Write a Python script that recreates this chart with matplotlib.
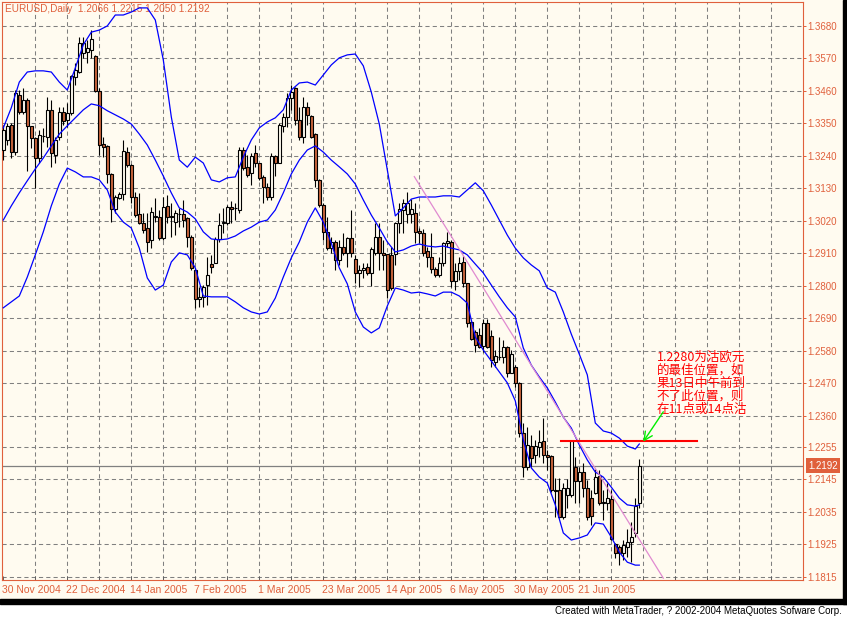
import numpy as np
import matplotlib.pyplot as plt
import matplotlib.transforms as mtransforms
from matplotlib.patches import Rectangle

# chart text
title_text = "EURUSD,Daily  1.2066 1.2215 1.2050 1.2192"
credit_text = "Created with MetaTrader, ? 2002-2004 MetaQuotes Sofware Corp."
note_text = "1.2280为沽欧元\n的最佳位置，如\n果13日中午前到\n不了此位置，则\n在11点或14点沽"

date_labels = ["30 Nov 2004", "22 Dec 2004", "14 Jan 2005", "7 Feb 2005", "1 Mar 2005",
               "23 Mar 2005", "14 Apr 2005", "6 May 2005", "30 May 2005", "21 Jun 2005"]

price_ticks = [1.3680, 1.3570, 1.3460, 1.3350, 1.3240, 1.3130, 1.3020, 1.2910, 1.2800,
               1.2690, 1.2580, 1.2470, 1.2360, 1.2255, 1.2145, 1.2035, 1.1925, 1.1815]

# daily candles, one per trading day from 30 Nov 2004
opens = [1.3260, 1.3294, 1.3345, 1.3253, 1.3446, 1.3389, 1.3430, 1.3342, 1.3301, 1.3233,
         1.3308, 1.3304, 1.3396, 1.3243, 1.3304, 1.3389, 1.3362, 1.3386, 1.3507, 1.3524,
         1.3589, 1.3592, 1.3599, 1.3578, 1.3460, 1.3280, 1.3274, 1.3179, 1.3061, 1.3098,
         1.3111, 1.3253, 1.3210, 1.3101, 1.3043, 1.3013, 1.2996, 1.2956, 1.3033, 1.3033,
         1.2962, 1.3071, 1.3033, 1.3016, 1.3043, 1.3043, 1.3030, 1.2966, 1.2854, 1.2756,
         1.2763, 1.2803, 1.2874, 1.2878, 1.2959, 1.3013, 1.3013, 1.3067, 1.3064, 1.3057,
         1.3260, 1.3203, 1.3183, 1.3250, 1.3216, 1.3169, 1.3135, 1.3101, 1.3240, 1.3216,
         1.3342, 1.3372, 1.3436, 1.3470, 1.3362, 1.3304, 1.3406, 1.3375, 1.3314, 1.3159,
         1.3074, 1.2983, 1.2928, 1.2949, 1.2888, 1.2932, 1.2912, 1.2962, 1.2891, 1.2844,
         1.2854, 1.2864, 1.2844, 1.2912, 1.2966, 1.2912, 1.2908, 1.2905, 1.2908, 1.3013,
         1.3057, 1.3043, 1.3043, 1.3047, 1.2986, 1.2979, 1.2918, 1.2898, 1.2857, 1.2837,
         1.2878, 1.2945, 1.2949, 1.2817, 1.2851, 1.2881, 1.2810, 1.2678, 1.2644, 1.2634,
         1.2597, 1.2675, 1.2631, 1.2543, 1.2560, 1.2560, 1.2593, 1.2505, 1.2526, 1.2472,
         1.2302, 1.2187, 1.2258, 1.2228, 1.2255, 1.2275, 1.2228, 1.2224, 1.2109, 1.2109,
         1.2018, 1.2093, 1.2093, 1.2187, 1.2140, 1.2170, 1.2116, 1.2082, 1.2099, 1.2157,
         1.2065, 1.2065, 1.2079, 1.1926, 1.1916, 1.1896, 1.1916, 1.1933, 1.1964, 1.2066]
highs = [1.3345, 1.3352, 1.3352, 1.3463, 1.3463, 1.3470, 1.3436, 1.3342, 1.3304, 1.3328,
         1.3335, 1.3440, 1.3430, 1.3304, 1.3406, 1.3406, 1.3420, 1.3514, 1.3555, 1.3643,
         1.3643, 1.3633, 1.3666, 1.3582, 1.3470, 1.3304, 1.3277, 1.3183, 1.3108, 1.3118,
         1.3294, 1.3270, 1.3213, 1.3118, 1.3115, 1.3047, 1.3047, 1.3067, 1.3098, 1.3057,
         1.3101, 1.3108, 1.3081, 1.3057, 1.3064, 1.3091, 1.3033, 1.2972, 1.2861, 1.2797,
         1.2803, 1.2898, 1.2905, 1.2966, 1.3047, 1.3064, 1.3074, 1.3088, 1.3081, 1.3270,
         1.3270, 1.3243, 1.3250, 1.3277, 1.3216, 1.3176, 1.3149, 1.3250, 1.3243, 1.3352,
         1.3386, 1.3453, 1.3480, 1.3473, 1.3406, 1.3440, 1.3423, 1.3379, 1.3318, 1.3162,
         1.3081, 1.3033, 1.2966, 1.2956, 1.2956, 1.2979, 1.2966, 1.3057, 1.2905, 1.2871,
         1.2878, 1.2878, 1.2932, 1.3013, 1.3013, 1.2956, 1.2908, 1.2932, 1.3016, 1.3081,
         1.3094, 1.3118, 1.3094, 1.3081, 1.2996, 1.2993, 1.2932, 1.2979, 1.2864, 1.2898,
         1.2949, 1.2983, 1.2956, 1.2878, 1.2898, 1.2901, 1.2810, 1.2685, 1.2651, 1.2658,
         1.2688, 1.2688, 1.2651, 1.2583, 1.2627, 1.2617, 1.2597, 1.2583, 1.2532, 1.2475,
         1.2336, 1.2322, 1.2296, 1.2279, 1.2312, 1.2353, 1.2245, 1.2228, 1.2150, 1.2150,
         1.2133, 1.2147, 1.2279, 1.2221, 1.2187, 1.2201, 1.2143, 1.2109, 1.2180, 1.2177,
         1.2109, 1.2133, 1.2109, 1.1930, 1.1923, 1.1940, 1.1977, 1.2001, 1.2082, 1.2215]
lows = [1.3226, 1.3277, 1.3233, 1.3243, 1.3382, 1.3382, 1.3190, 1.3267, 1.3132, 1.3216,
        1.3287, 1.3270, 1.3203, 1.3216, 1.3294, 1.3345, 1.3338, 1.3379, 1.3480, 1.3521,
        1.3572, 1.3555, 1.3572, 1.3456, 1.3243, 1.3236, 1.3149, 1.3016, 1.3047, 1.3094,
        1.3091, 1.3203, 1.3081, 1.3033, 1.3009, 1.2979, 1.2915, 1.2928, 1.3016, 1.2956,
        1.2956, 1.3013, 1.2966, 1.2972, 1.2999, 1.2999, 1.2932, 1.2854, 1.2726, 1.2729,
        1.2729, 1.2736, 1.2844, 1.2878, 1.2949, 1.2979, 1.3006, 1.3013, 1.3023, 1.3047,
        1.3193, 1.3169, 1.3142, 1.3203, 1.3159, 1.3081, 1.3091, 1.3091, 1.3172, 1.3216,
        1.3321, 1.3338, 1.3396, 1.3345, 1.3294, 1.3284, 1.3345, 1.3301, 1.3135, 1.3067,
        1.2956, 1.2922, 1.2912, 1.2854, 1.2871, 1.2905, 1.2864, 1.2898, 1.2810, 1.2797,
        1.2827, 1.2837, 1.2800, 1.2905, 1.2854, 1.2854, 1.2759, 1.2786, 1.2871, 1.2979,
        1.2979, 1.3013, 1.3013, 1.2945, 1.2945, 1.2901, 1.2864, 1.2844, 1.2830, 1.2830,
        1.2868, 1.2932, 1.2797, 1.2786, 1.2820, 1.2797, 1.2661, 1.2617, 1.2576, 1.2590,
        1.2576, 1.2590, 1.2526, 1.2526, 1.2549, 1.2539, 1.2492, 1.2505, 1.2458, 1.2289,
        1.2153, 1.2177, 1.2187, 1.2201, 1.2221, 1.2201, 1.2177, 1.2102, 1.2018, 1.2015,
        1.2011, 1.2049, 1.2086, 1.2065, 1.2065, 1.2086, 1.2008, 1.1991, 1.2096, 1.2059,
        1.2008, 1.2042, 1.1940, 1.1879, 1.1855, 1.1872, 1.1882, 1.1865, 1.1950, 1.2050]
closes = [1.3328, 1.3342, 1.3253, 1.3453, 1.3389, 1.3430, 1.3342, 1.3301, 1.3233, 1.3311,
          1.3306, 1.3396, 1.3250, 1.3294, 1.3389, 1.3359, 1.3386, 1.3511, 1.3531, 1.3622,
          1.3622, 1.3606, 1.3636, 1.3460, 1.3277, 1.3270, 1.3179, 1.3061, 1.3101, 1.3111,
          1.3257, 1.3210, 1.3101, 1.3040, 1.3013, 1.2989, 1.2949, 1.3050, 1.3037, 1.2962,
          1.3067, 1.3033, 1.3037, 1.3047, 1.3045, 1.3023, 1.2966, 1.2861, 1.2756, 1.2763,
          1.2797, 1.2837, 1.2864, 1.2959, 1.3006, 1.3016, 1.3067, 1.3061, 1.3065, 1.3260,
          1.3199, 1.3176, 1.3240, 1.3216, 1.3166, 1.3135, 1.3101, 1.3240, 1.3216, 1.3345,
          1.3372, 1.3436, 1.3456, 1.3362, 1.3304, 1.3406, 1.3379, 1.3304, 1.3159, 1.3074,
          1.2983, 1.2928, 1.2949, 1.2888, 1.2932, 1.2912, 1.2962, 1.2912, 1.2844, 1.2854,
          1.2861, 1.2844, 1.2925, 1.2966, 1.2912, 1.2905, 1.2786, 1.2793, 1.3013, 1.3061,
          1.3081, 1.3081, 1.3061, 1.2983, 1.2979, 1.2912, 1.2898, 1.2857, 1.2837, 1.2878,
          1.2945, 1.2952, 1.2817, 1.2851, 1.2878, 1.2810, 1.2675, 1.2620, 1.2600, 1.2593,
          1.2675, 1.2593, 1.2549, 1.2563, 1.2558, 1.2593, 1.2505, 1.2570, 1.2472, 1.2302,
          1.2187, 1.2262, 1.2218, 1.2258, 1.2272, 1.2228, 1.2221, 1.2109, 1.2107, 1.2018,
          1.2116, 1.2116, 1.2275, 1.2140, 1.2170, 1.2116, 1.2018, 1.2021, 1.2153, 1.2065,
          1.2069, 1.2082, 1.1943, 1.1896, 1.1896, 1.1923, 1.1933, 1.1950, 1.2055, 1.2192]

# Bollinger bands read every second bar (plus the last one)
band_bars = list(range(0, 160, 2)) + [159]
band_upper = [1.3335, 1.3403, 1.3490, 1.3524, 1.3528, 1.3528, 1.3524, 1.3490, 1.3463, 1.3538,
              1.3616, 1.3659, 1.3666, 1.3680, 1.3717, 1.3717, 1.3727, 1.3741, 1.3741, 1.3700,
              1.3565, 1.3372, 1.3226, 1.3202, 1.3236, 1.3216, 1.3159, 1.3152, 1.3166, 1.3169,
              1.3236, 1.3294, 1.3335, 1.3355, 1.3369, 1.3396, 1.3463, 1.3487, 1.3490, 1.3480,
              1.3514, 1.3548, 1.3572, 1.3582, 1.3585, 1.3545, 1.3456, 1.3348, 1.3193, 1.3037,
              1.3064, 1.3094, 1.3101, 1.3101, 1.3101, 1.3105, 1.3105, 1.3101, 1.3125, 1.3149,
              1.3122, 1.3074, 1.3023, 1.2972, 1.2928, 1.2895, 1.2871, 1.2851, 1.2793, 1.2779,
              1.2712, 1.2637, 1.2569, 1.2499, 1.2336, 1.2309, 1.2302, 1.2285, 1.2258, 1.2248,
              1.2265]
band_middle = [1.3023, 1.3071, 1.3115, 1.3156, 1.3196, 1.3233, 1.3274, 1.3314, 1.3342, 1.3369,
               1.3396, 1.3416, 1.3410, 1.3393, 1.3379, 1.3365, 1.3348, 1.3314, 1.3277, 1.3226,
               1.3172, 1.3115, 1.3064, 1.3050, 1.3027, 1.2983, 1.2959, 1.2956, 1.2959, 1.2969,
               1.2986, 1.2999, 1.3016, 1.3023, 1.3057, 1.3115, 1.3179, 1.3226, 1.3260, 1.3274,
               1.3253, 1.3226, 1.3203, 1.3179, 1.3145, 1.3091, 1.3040, 1.2996, 1.2949, 1.2915,
               1.2922, 1.2935, 1.2942, 1.2935, 1.2932, 1.2935, 1.2928, 1.2922, 1.2905, 1.2874,
               1.2844, 1.2803, 1.2763, 1.2726, 1.2695, 1.2590, 1.2532, 1.2492, 1.2455, 1.2407,
               1.2356, 1.2319, 1.2262, 1.2211, 1.2170, 1.2153, 1.2119, 1.2082, 1.2059, 1.2055,
               1.2059]
band_lower = [1.2726, 1.2746, 1.2766, 1.2830, 1.2905, 1.2983, 1.3071, 1.3145, 1.3199, 1.3186,
              1.3169, 1.3169, 1.3159, 1.3125, 1.3050, 1.3016, 1.2996, 1.2928, 1.2827, 1.2786,
              1.2803, 1.2881, 1.2912, 1.2905, 1.2861, 1.2766, 1.2763, 1.2763, 1.2763, 1.2746,
              1.2726, 1.2712, 1.2705, 1.2712, 1.2759, 1.2830, 1.2895, 1.2949, 1.3016, 1.3064,
              1.3016, 1.2945, 1.2861, 1.2807, 1.2712, 1.2661, 1.2641, 1.2658, 1.2732, 1.2793,
              1.2786, 1.2776, 1.2779, 1.2773, 1.2766, 1.2779, 1.2779, 1.2766, 1.2742, 1.2627,
              1.2583, 1.2546, 1.2509, 1.2472, 1.2411, 1.2279, 1.2184, 1.2153, 1.2133, 1.2059,
              1.1964, 1.1940, 1.1947, 1.1957, 1.1998, 1.1994, 1.1950, 1.1899, 1.1865, 1.1855,
              1.1855]

# drawn objects (bar index, price)
trend_bars = [102.75, 165.0]
trend_prices = [1.3170, 1.1811]
level_bars = [139.5, 173.5]
level_price = 1.2275
last_price = 1.2192

bg = '#fffbf0'
axis_col = '#e0603c'
bear_col = '#c8643c'

plt.rcParams['font.family'] = ['Liberation Sans', 'DejaVu Sans']

W, H = 847, 619
fig = plt.figure(figsize=(W / 100, H / 100), dpi=100, facecolor=bg)
ax = fig.add_axes([2 / W, 1 - 580 / H, 801 / W, 578 / H])
ax.set_facecolor(bg)

o = np.array(opens)
h = np.array(highs)
l = np.array(lows)
c = np.array(closes)
x = np.arange(len(c))
up = c >= o
body_lo = np.minimum(o, c)
body_h = np.maximum(np.abs(c - o), 0.00005)

# grid
grid_kw = dict(color='#808080', lw=0.75, linestyle=(0, (4, 3)), zorder=1)
for p in price_ticks:
    ax.axhline(p, **grid_kw)
for v in range(8, 200, 8):
    ax.axvline(v, **grid_kw)

ax.axhline(last_price, color='#808080', lw=0.9, zorder=1.5)

# candles
ax.vlines(x, l, h, color='black', lw=0.8, zorder=3)
ax.bar(x[up], body_h[up], bottom=body_lo[up], width=0.6, color=bg,
       edgecolor='black', linewidth=0.8, zorder=4)
ax.bar(x[~up], body_h[~up], bottom=body_lo[~up], width=0.6, color=bear_col,
       edgecolor='black', linewidth=0.8, zorder=4)

# bollinger bands
for band in (band_upper, band_middle, band_lower):
    ax.plot(band_bars, band, color='#0000ff', lw=0.9, zorder=5)

# trend line and level
ax.plot(trend_bars, trend_prices, color='#e08ad0', lw=0.9, zorder=5)
ax.plot(level_bars, [level_price, level_price], color='#ff0000', lw=1.5, zorder=6,
        clip_on=False)

ax.text(163.4, 1.2580, note_text, color='#ff0000', fontsize=9, va='top', ha='left',
        family=['Noto Sans CJK SC', 'DejaVu Sans'], linespacing=1.0, zorder=7)
ax.annotate('', xy=(160.0, 1.2273), xytext=(165.0, 1.2374),
            arrowprops=dict(arrowstyle='->,head_length=0.6,head_width=0.3',
                            color='#00ee00', lw=1.0, shrinkA=0, shrinkB=0), zorder=7)

ax.set_xlim(-0.325, 199.925)
ax.set_ylim(1.18047, 1.3761)

# axes
tick_pos = np.arange(0, 200, 8)
tick_lab = [''] * len(tick_pos)
for k, lab in enumerate(date_labels):
    tick_lab[2 * k] = lab
ax.set_xticks(tick_pos)
ax.set_xticklabels(tick_lab)
ax.tick_params(axis='x', direction='in', length=3, width=0.7, color='#606060',
               labelcolor=axis_col, labelsize=7.5, pad=3.5)
shift = mtransforms.ScaledTranslation(-1.5 / 100, 0, fig.dpi_scale_trans)
for t in ax.get_xticklabels():
    t.set_ha('left')
    t.set_transform(t.get_transform() + shift)

ax.yaxis.tick_right()
ax.set_yticks(price_ticks)
ax.set_yticklabels([f"{p:.4f}" for p in price_ticks])
ax.tick_params(axis='y', direction='out', length=2.2, width=0.7, color=axis_col,
               labelcolor=axis_col, labelsize=7, pad=1)
for s in ax.spines.values():
    s.set_color(axis_col)
    s.set_linewidth(0.8)

# last price marker
blend = mtransforms.blended_transform_factory(ax.transAxes, ax.transData)
ax.text(1.0065, last_price, f"{last_price:.4f}", transform=blend, ha='left', va='center',
        color='white', fontsize=7,
        bbox=dict(boxstyle='square,pad=0.25', fc=axis_col, ec='none'), clip_on=False)

# title sits under the indicator lines, as in the terminal
ax.text(3 / 801, 1 - 7 / 578, title_text, transform=ax.transAxes, ha='left', va='center',
        color=axis_col, fontsize=7.2, zorder=2)

# window frame and footer
fig.add_artist(Rectangle((0, 0), 1, 15 / H, transform=fig.transFigure,
                         color='white', zorder=0))
fig.add_artist(Rectangle((0, 15 / H), 1, 5 / H, transform=fig.transFigure,
                         color='black', zorder=0))
fig.add_artist(Rectangle((843 / W, 15 / H), 4 / W, 1 - 15 / H, transform=fig.transFigure,
                         color='black', zorder=0))
fig.text(842 / W, 1 - 611.5 / H, credit_text, ha='right', va='center', color='black',
         fontsize=7)

fig.savefig('out.png', dpi=100, facecolor=bg)
